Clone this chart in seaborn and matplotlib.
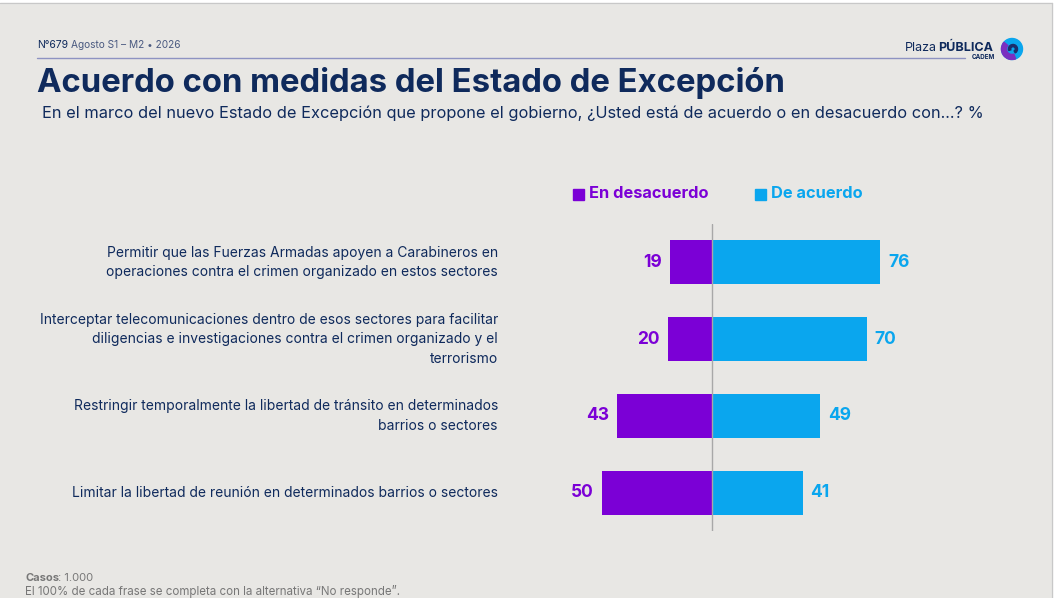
import numpy as np
import matplotlib
matplotlib.use("Agg")
import matplotlib.pyplot as plt
import matplotlib.transforms as mtransforms
import pandas as pd
import seaborn as sns
from matplotlib.patches import Rectangle, Circle, Wedge
from matplotlib.lines import Line2D

# datos
frases = [
    "Permitir que las Fuerzas Armadas apoyen a Carabineros en\noperaciones contra el crimen organizado en estos sectores",
    "Interceptar telecomunicaciones dentro de esos sectores para facilitar\ndiligencias e investigaciones contra el crimen organizado y el\nterrorismo",
    "Restringir temporalmente la libertad de tránsito en determinados\nbarrios o sectores",
    "Limitar la libertad de reunión en determinados barrios o sectores",
]
en_desacuerdo = [19, 20, 43, 50]
de_acuerdo = [76, 70, 49, 41]
series = ["En desacuerdo", "De acuerdo"]

BG = "#E8E7E4"
PURPLE = "#7B00D6"
CYAN = "#0AA6EE"
NAVY = "#0F2A5C"
GRAY = "#777777"

sns.set_theme(style="white")
plt.rcParams['font.family'] = ['Inter', 'DejaVu Sans']

df = pd.DataFrame({
    "frase": frases * 2,
    "valor": [-v for v in en_desacuerdo] + de_acuerdo,
    "serie": [series[0]] * 4 + [series[1]] * 4,
})

W, H = 1058, 598
fig = plt.figure(figsize=(W / 100, H / 100), dpi=100, facecolor=BG)

def px(x0, y0, x1, y1):
    return [x0 / W, 1 - y1 / H, (x1 - x0) / W, (y1 - y0) / H]

ax = fig.add_axes(px(520, 224, 920, 531))
ax.set_facecolor(BG)
sns.barplot(data=df, x="valor", y="frase", hue="serie", dodge=False,
            palette={series[0]: PURPLE, series[1]: CYAN}, width=0.573,
            orient="h", ax=ax, legend=False, saturation=1, linewidth=0)
ax.set_xlim(-(712 - 520) / 2.21, (920 - 712) / 2.21)
ax.set_ylim(3.5, -0.5)
ax.axvline(0, color="#A8A8A8", lw=1)
for s in ax.spines.values():
    s.set_visible(False)
ax.set_xticks([])
ax.set_xlabel("")
ax.set_ylabel("")
ax.tick_params(axis="y", length=0)
ax.set_yticks(range(len(frases)))
ax.set_yticklabels([])

# textos de las frases, alineados a la derecha junto al eje
trans = mtransforms.blended_transform_factory(ax.transAxes, ax.transData)
trans = trans + mtransforms.ScaledTranslation(-22 / 100, 0, fig.dpi_scale_trans)
for i, frase in enumerate(frases):
    ax.text(0, i, frase, transform=trans, ha="right", va="center",
            multialignment="right", color=NAVY, fontsize=10, linespacing=1.5)

for i, (d, a) in enumerate(zip(en_desacuerdo, de_acuerdo)):
    ax.text(-d - 3.6, i, str(d), color=PURPLE, ha="right", va="center",
            fontsize=12.5, fontweight="bold")
    ax.text(a + 3.6, i, str(a), color=CYAN, ha="left", va="center",
            fontsize=12.5, fontweight="bold")

# leyenda
for (x0, txt, col) in [(573, series[0], PURPLE), (755, series[1], CYAN)]:
    fig.patches.append(Rectangle((x0 / W, 1 - 200 / H), 11 / W, 11 / H,
                                 transform=fig.transFigure, color=col))
    fig.text((x0 + 16) / W, 1 - 194 / H, txt, color=col, fontsize=11.8,
             fontweight="bold", va="center", ha="left")

# encabezado
fig.text(37 / W, 1 - 45 / H, "N°679", color=NAVY, fontsize=7.5, va="center")
fig.text(71 / W, 1 - 45 / H, "Agosto S1 – M2 • 2026", color="#4A5A80",
         fontsize=7.3, va="center")
fig.add_artist(Line2D([37 / W, 965 / W], [1 - 58 / H, 1 - 58 / H],
                      color="#8E93C2", lw=1, transform=fig.transFigure))
fig.text(37 / W, 1 - 83 / H, "Acuerdo con medidas del Estado de Excepción",
         color=NAVY, fontsize=23.7, fontweight="bold", va="center")
fig.text(42 / W, 1 - 113 / H,
         "En el marco del nuevo Estado de Excepción que propone el gobierno, "
         "¿Usted está de acuerdo o en desacuerdo con...? %",
         color=NAVY, fontsize=11.8, va="center")

# logo
fig.text(905 / W, 1 - 48 / H, "Plaza", color=NAVY, fontsize=9, va="center")
fig.text(938 / W, 1 - 48 / H, "PÚBLICA", color=NAVY, fontsize=9,
         fontweight="bold", va="center")
fig.text(995 / W, 1 - 57 / H, "CADEM", color=NAVY, fontsize=4.5,
         fontweight="bold", va="center", ha="right")
cx, cy = 1012, H - 49
fig.patches.append(Circle((cx, cy), 10.5, transform=None, color=CYAN))
fig.patches.append(Wedge((cx, cy), 10.5, 140, 290, width=5,
                         transform=None, color="#7A2FC0"))
fig.patches.append(Wedge((cx + 1, cy), 4.5, -60, 200, width=2.2,
                         transform=None, color="#1B2D6B"))

# pie
fig.text(25 / W, 1 - 578 / H, "Casos", color=GRAY, fontsize=8,
         fontweight="bold", va="center")
fig.text(58 / W, 1 - 578 / H, ": 1.000", color=GRAY, fontsize=8, va="center")
fig.text(25 / W, 1 - 591 / H,
         "El 100% de cada frase se completa con la alternativa “No responde”.",
         color=GRAY, fontsize=8.3, va="center")

# marco
fig.patches.append(Rectangle((0, 1 - 3 / H), 1, 3 / H, transform=fig.transFigure,
                             color="white"))
fig.patches.append(Rectangle((1052 / W, 0), 6 / W, 1, transform=fig.transFigure,
                             color="white"))
fig.add_artist(Line2D([0, 1052 / W], [1 - 3 / H, 1 - 3 / H], color="#C8C8C8",
                      lw=1, transform=fig.transFigure))
fig.add_artist(Line2D([1052 / W, 1052 / W], [0, 1 - 3 / H], color="#C8C8C8",
                      lw=1, transform=fig.transFigure))

fig.savefig("out.png", dpi=100, facecolor=BG)
